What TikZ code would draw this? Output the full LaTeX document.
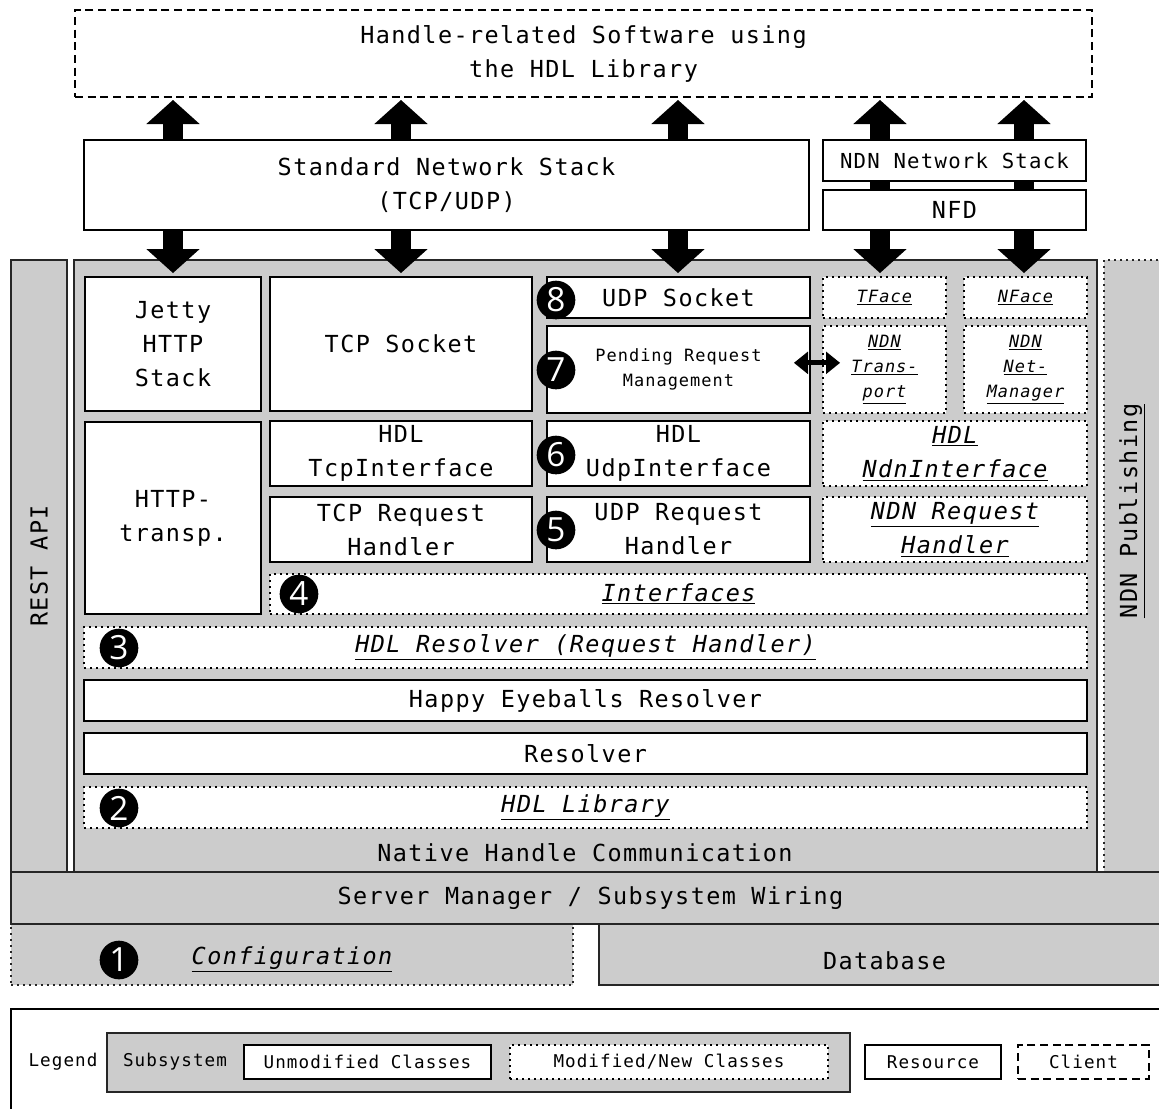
\documentclass[tikz,border=0pt]{standalone}
\usepackage{fontspec}
\usetikzlibrary{arrows.meta}
\newfontfamily\mono[LetterSpace=6]{DejaVu Sans Mono}
\newfontfamily\numfont{Open Sans}
\newcommand\fntL{\mono\fontsize{17.6}{25.5}\selectfont}
\newcommand\fntM{\mono\fontsize{15.5}{20}\selectfont}
\newcommand\fntS{\mono\fontsize{12.7}{18.75}\selectfont}
\newcommand\fntG{\mono\fontsize{13.2}{18.75}\selectfont}
\definecolor{subgray}{HTML}{CCCCCC}
\newcommand\bx[7]{\node[#6, minimum width={(#4-#2)*0.75pt}, minimum height={(#5-#3)*0.75pt}] (#1) at ({(#2+#4)/2},{(#3+#5)/2}) {#7};}
\tikzset{
  box/.style={rectangle, draw=black, line width=1.5pt, fill=white, inner sep=0pt, align=center, font=\fntL},
  mbox/.style={box, dash pattern=on 1.5pt off 3pt},
  cbox/.style={box, dash pattern=on 6pt off 3.5pt},
  sub/.style={rectangle, draw=black!85, line width=1.5pt, fill=subgray, inner sep=0pt, align=center, font=\fntL},
  msub/.style={sub, dash pattern=on 1.5pt off 3pt},
  lbl/.style={inner sep=0pt, align=center, font=\fntL},
  num/.style={circle, fill=black, text=white, minimum size=29pt, inner sep=0pt, font=\numfont\fontsize{25}{25}\selectfont},
  bigarrow/.style={line width=15pt, -{Triangle[width=40pt,length=18pt,line width=0pt]}},
  shaft/.style={line width=15pt},
  dblarrow/.style={line width=3.75pt, {Triangle[width=17pt,length=10.5pt,line width=0pt]}-{Triangle[width=17pt,length=10.5pt,line width=0pt]}}
}
\begin{document}
\begin{tikzpicture}[x=0.75pt,y=-0.75pt]
\useasboundingbox (0,0) rectangle (1159,1108);
\clip (0,0) rectangle (1159,1108);
% client
\bx{client}{75}{10}{1092}{97}{cbox}{Handle-related Software using\\the HDL Library}
% subsystems
\bx{rest}{11}{260}{67}{872}{sub}{}
\node[lbl, rotate=90] (restt) at (39,566) {REST API};
\bx{native}{74}{260}{1097}{872}{sub}{}
\node[lbl] (nativet) at (585,853) {Native Handle Communication};
\bx{ndnpub}{1104}{260}{1170}{872}{msub}{}
\node[lbl, rotate=90] (ndnpubt) at (1132,511) {\underline{NDN Publishing}};
\bx{config}{11}{924}{573}{985}{msub}{}
\node[lbl] (configt) at (292,959) {\itshape\underline{Configuration}};
\bx{database}{599}{924}{1170}{985}{sub, text height=23pt}{Database}
\bx{server}{11}{872}{1170}{924}{sub}{Server Manager / Subsystem Wiring}
% network stacks
\bx{stack}{84}{140}{809}{230}{box}{Standard Network Stack\\(TCP/UDP)}
\bx{ndnstack}{823}{140}{1086}{181}{box, font=\fntM}{NDN Network Stack}
\bx{nfd}{823}{190}{1086}{230}{box}{NFD}
% arrow columns
\coordinate (a1) at (173,0);
\coordinate (a2) at (401,0);
\coordinate (a3) at (678,0);
\coordinate (a4) at (880,0);
\coordinate (a5) at (1024,0);
\foreach \c in {a1,a2,a3}{
  \draw[bigarrow, shorten >=1.5pt] (stack.north -| \c) -- (client.south -| \c);
  \draw[bigarrow, shorten >=-10.5pt] (stack.south -| \c) -- (native.north -| \c);
}
\foreach \c in {a4,a5}{
  \draw[bigarrow, shorten >=1.5pt] (ndnstack.north -| \c) -- (client.south -| \c);
  \draw[shaft] (ndnstack.south -| \c) -- (nfd.north -| \c);
  \draw[bigarrow, shorten >=-10.5pt] (nfd.south -| \c) -- (native.north -| \c);
}
% inner classes
\bx{jetty}{85}{277}{261}{411}{box}{Jetty\\HTTP\\Stack}
\bx{tcpsock}{270}{277}{532}{411}{box}{TCP Socket}
\bx{udpsock}{547}{277}{810}{318}{box}{UDP Socket}
\bx{pending}{547}{326}{810}{413}{box, font=\fntS}{Pending Request\\Management}
\bx{tface}{823}{277}{946}{318}{mbox, font=\fntS}{\itshape\underline{TFace}}
\bx{nface}{964}{277}{1087}{318}{mbox, font=\fntS}{\itshape\underline{NFace}}
\bx{ndntr}{823}{326}{946}{413}{mbox, font=\fntS}{\itshape\underline{NDN}\\\itshape\underline{Trans-}\\\itshape\underline{port}}
\bx{ndnnm}{964}{326}{1087}{413}{mbox, font=\fntS}{\itshape\underline{NDN}\\\itshape\underline{Net-}\\\itshape\underline{Manager}}
\bx{http}{85}{422}{261}{614}{box}{HTTP-\\transp.}
\bx{tcpif}{270}{421}{532}{486}{box}{HDL\\TcpInterface}
\bx{udpif}{547}{421}{810}{486}{box}{HDL\\UdpInterface}
\bx{ndnif}{823}{421}{1087}{486}{mbox}{\itshape\underline{HDL}\\\itshape\underline{NdnInterface}}
\bx{tcprh}{270}{497}{532}{562}{box}{TCP Request\\Handler}
\bx{udprh}{547}{497}{810}{562}{box}{UDP Request\\Handler}
\bx{ndnrh}{823}{497}{1087}{562}{mbox}{\itshape\underline{NDN Request}\\\itshape\underline{Handler}}
\bx{ifaces}{270}{574}{1087}{614}{mbox}{\itshape\underline{Interfaces}}
\bx{hdlres}{84}{627}{1087}{668}{mbox}{\itshape\underline{HDL Resolver (Request Handler)}}
\bx{happy}{84}{680}{1087}{721}{box}{Happy Eyeballs Resolver}
\bx{resolver}{84}{733}{1087}{774}{box}{Resolver}
\bx{hdllib}{84}{787}{1087}{828}{mbox}{\itshape\underline{HDL Library}}
\draw[dblarrow, shorten <=-12.75pt, shorten >=-13.5pt] ([yshift=5pt]pending.east) -- ([yshift=5pt]ndntr.west);
% numbers
\node[num] (n8) at (556,300) {8};
\node[num] (n7) at (556,370) {7};
\node[num] (n6) at (556,455) {6};
\node[num] (n5) at (556,530) {5};
\node[num] (n4) at (299,594) {4};
\node[num] (n3) at (119,648) {3};
\node[num] (n2) at (119,808) {2};
\node[num] (n1) at (119,960) {1};
% legend
\bx{legend}{11}{1009}{1170}{1120}{box}{}
\node[lbl, font=\fntG] (legendt) at (63,1062) {Legend};
\bx{lsub}{107}{1033}{850}{1092}{sub}{}
\node[lbl, font=\fntG] (lsubt) at (175,1062) {Subsystem};
\bx{lunmod}{244}{1045}{491}{1079}{box, font=\fntG}{Unmodified Classes}
\bx{lmod}{510}{1045}{828}{1079}{mbox, font=\fntG}{Modified/New Classes}
\bx{lres}{865}{1045}{1001}{1079}{box, font=\fntG}{Resource}
\bx{lcli}{1018}{1045}{1149}{1079}{cbox, font=\fntG}{Client}
\end{tikzpicture}
\end{document}
